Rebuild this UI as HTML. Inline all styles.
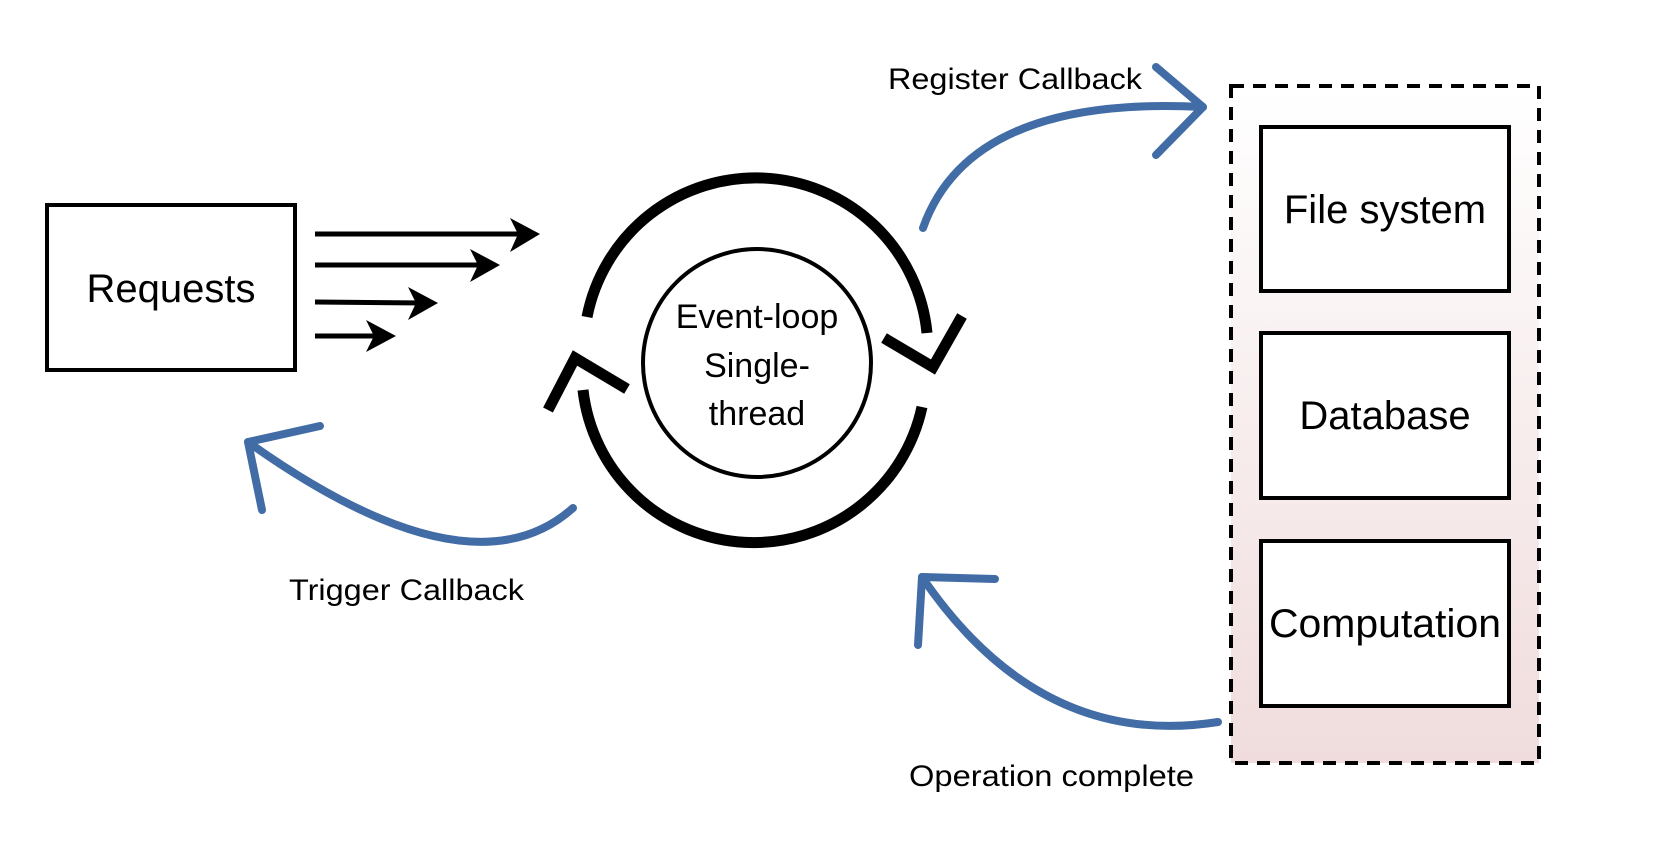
<!DOCTYPE html>
<html><head><meta charset="utf-8"><style>
html,body{margin:0;padding:0;background:#fff;}
svg{display:block;font-family:"Liberation Sans",Arial,sans-serif;}
</style></head><body>
<svg width="1678" height="842" viewBox="0 0 1678 842" xmlns="http://www.w3.org/2000/svg">
<defs>
<linearGradient id="g" x1="0" y1="0" x2="0" y2="1">
<stop offset="0" stop-color="#ffffff"/><stop offset="1" stop-color="#f0dcdc"/>
</linearGradient>
</defs>
<rect width="1678" height="842" fill="#fff"/>
<rect x="47" y="205" width="248" height="165" fill="#fff" stroke="#000" stroke-width="4"/>
<text x="171" y="302" font-size="40" text-anchor="middle">Requests</text>
<g stroke="#000" stroke-width="5" fill="#000">
<line x1="315" y1="234" x2="525" y2="234"/>
<line x1="315" y1="265" x2="486" y2="265"/>
<line x1="315" y1="302" x2="424" y2="303"/>
<line x1="315" y1="336" x2="381" y2="336"/>
</g>
<g fill="#000">
<polygon points="540,234 510,218 518,234 510,252"/>
<polygon points="500,265 470,249 478,265 470,282"/>
<polygon points="438,303 408,287 416,303 408,320"/>
<polygon points="396,336 366,320 374,336 366,352"/>
</g>
<circle cx="757" cy="363" r="114" fill="#fff" stroke="#000" stroke-width="4"/>
<text x="757" y="328" font-size="34" text-anchor="middle">Event-loop</text>
<text x="757" y="377" font-size="34" text-anchor="middle">Single-</text>
<text x="757" y="425" font-size="34" text-anchor="middle">thread</text>
<g fill="none" stroke="#000" stroke-width="11">
<path d="M587,317 A172 172 0 0 1 927,333"/>
<path d="M922,407 A172 172 0 0 1 583,390"/>
<polyline points="884,338 933,367 962,316"/>
<polyline points="627,389 575,358 548,410"/>
</g>
<g fill="none" stroke="#416ca5" stroke-width="8" stroke-linecap="round" stroke-linejoin="round">
<path d="M923,228 Q970,95 1203,107"/>
<polyline points="1156,67 1203,107 1156,155"/>
<path d="M573,508 Q470,600 248,442"/>
<polyline points="320,426 248,442 262,510"/>
<path d="M1218,722 Q1040,750 922,577"/>
<polyline points="995,579 922,577 918,645"/>
</g>
<text x="888" y="89" font-size="30" textLength="254" lengthAdjust="spacingAndGlyphs">Register Callback</text>
<text x="289" y="600" font-size="30" textLength="235" lengthAdjust="spacingAndGlyphs">Trigger Callback</text>
<text x="909" y="786" font-size="30" textLength="285" lengthAdjust="spacingAndGlyphs">Operation complete</text>
<rect x="1231" y="86" width="308" height="677" fill="url(#g)" stroke="#000" stroke-width="4" stroke-dasharray="13 9"/>
<g fill="#fff" stroke="#000" stroke-width="4">
<rect x="1261" y="127" width="248" height="164"/>
<rect x="1261" y="333" width="248" height="165"/>
<rect x="1261" y="541" width="248" height="165"/>
</g>
<g font-size="40" text-anchor="middle">
<text x="1385" y="223">File system</text>
<text x="1385" y="429">Database</text>
<text x="1385" y="637" textLength="232" lengthAdjust="spacingAndGlyphs">Computation</text>
</g>
</svg>
</body></html>
